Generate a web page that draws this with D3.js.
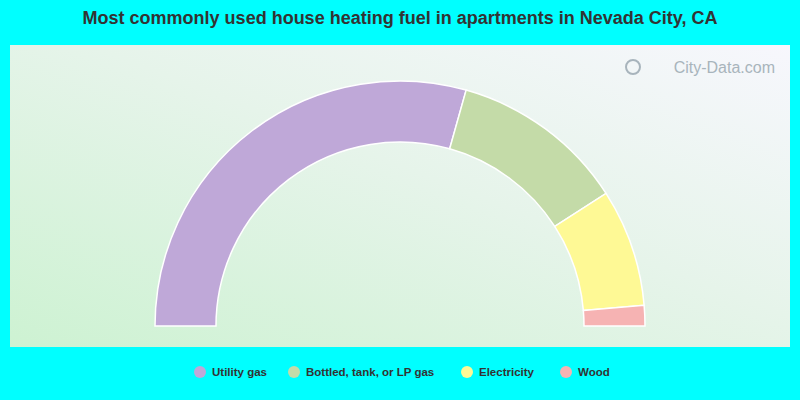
<!DOCTYPE html>
<html><head><meta charset="utf-8">
<script src="https://cdn.jsdelivr.net/npm/d3@7"></script>
<style>body{margin:0;background:#00ffff;font-family:"Liberation Sans",Arial,sans-serif}</style>
</head><body><div id="chart"></div>
<script>
const categories = ['Utility gas','Bottled, tank, or LP gas','Electricity','Wood'];
const values = [58.7, 23.1, 15.5, 2.7];
const colors = ['#bfa8d8','#c4dba8','#fef995','#f6b3b3'];

const width = 800, height = 400;
const svg = d3.select('#chart').append('svg').attr('width',width).attr('height',height);

const defs = svg.append('defs');
const lg = defs.append('linearGradient').attr('id','bggrad')
  .attr('x1','0%').attr('y1','100%').attr('x2','100%').attr('y2','0%');
lg.append('stop').attr('offset','0%').attr('stop-color','#cdf2d2');
lg.append('stop').attr('offset','55%').attr('stop-color','#e6f4ea');
lg.append('stop').attr('offset','100%').attr('stop-color','#f7f7fd');

svg.append('rect').attr('width',width).attr('height',height).attr('fill','#00ffff');
svg.append('rect').attr('x',10).attr('y',45).attr('width',780).attr('height',302).attr('fill','url(#bggrad)');

svg.append('text').attr('x',400).attr('y',24).attr('text-anchor','middle')
  .attr('font-size',18).attr('font-weight','bold').attr('fill','#333')
  .text('Most commonly used house heating fuel in apartments in Nevada City, CA');

svg.append('text').attr('x',775).attr('y',73).attr('text-anchor','end')
  .attr('font-size',16).attr('fill','#a8b4bc').text('City-Data.com');
svg.append('circle').attr('cx',633).attr('cy',67).attr('r',7).attr('fill','none').attr('stroke','#a8b4bc').attr('stroke-width',2);

const pie = d3.pie().sort(null).startAngle(-Math.PI/2).endAngle(Math.PI/2).value(d=>d);
const arc = d3.arc().innerRadius(184).outerRadius(245);
svg.append('g').attr('transform','translate(400,326)')
  .selectAll('path').data(pie(values)).enter().append('path')
  .attr('d',arc).attr('fill',(d,i)=>colors[i]).attr('stroke','#fff').attr('stroke-width',1.5);

const legX = [200, 294, 467, 566];
const leg = svg.append('g');
categories.forEach((c,i)=>{
  leg.append('circle').attr('cx',legX[i]).attr('cy',372).attr('r',6).attr('fill',colors[i]);
  leg.append('text').attr('x',legX[i]+12).attr('y',376).attr('font-size',11.5)
    .attr('font-weight','bold').attr('fill','#333').text(c);
});
</script></body></html>
